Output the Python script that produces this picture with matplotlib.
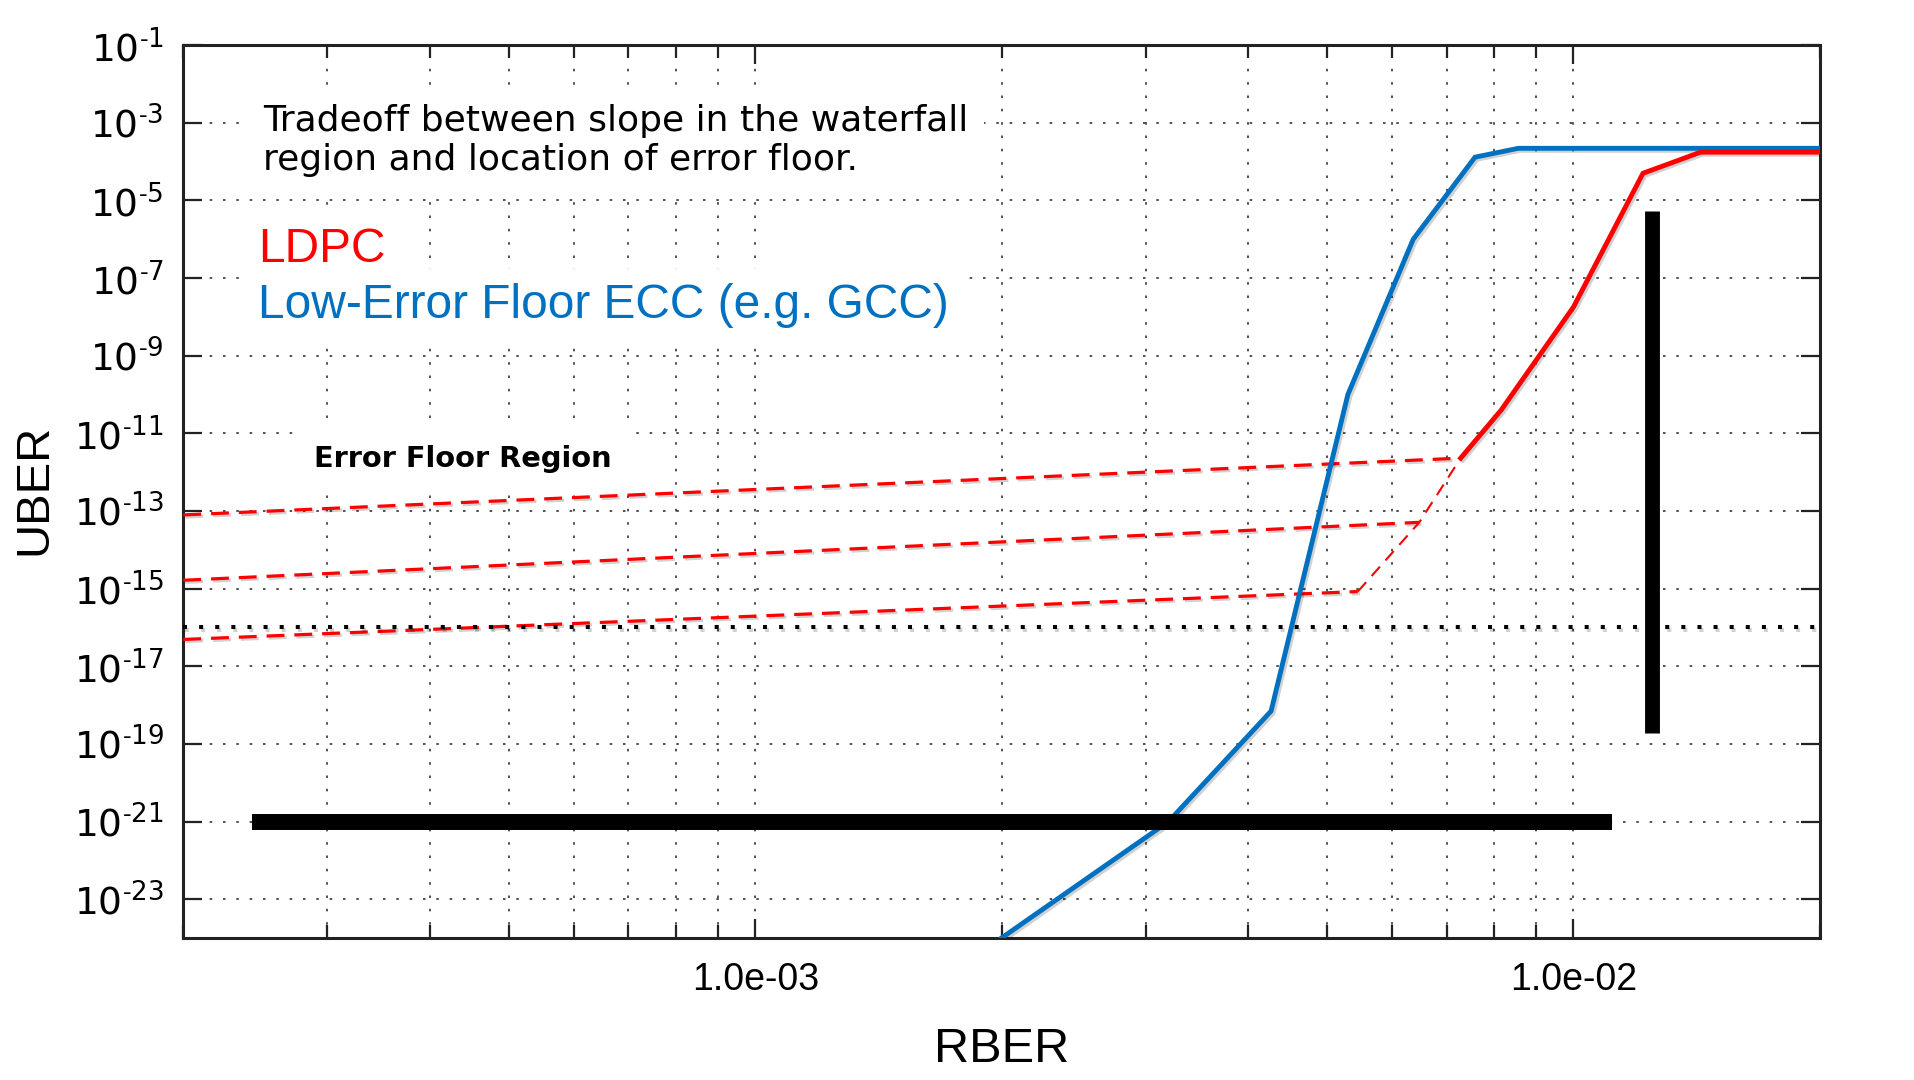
import numpy as np
import matplotlib
matplotlib.use('Agg')
import matplotlib.pyplot as plt
from matplotlib import font_manager as fm
import matplotlib.patheffects as pe
from matplotlib.ticker import FixedLocator, FixedFormatter, NullFormatter, NullLocator, LogLocator

names = {f.name for f in fm.fontManager.ttflist}
SANS = 'Liberation Sans'
HAS_NARROW = 'Liberation Sans Narrow' in names
NARROW = 'Liberation Sans Narrow' if HAS_NARROW else 'Liberation Sans'

plt.rcParams['mathtext.fontset'] = 'custom'
plt.rcParams['mathtext.rm'] = SANS
plt.rcParams['mathtext.it'] = SANS + ':italic'
plt.rcParams['mathtext.bf'] = SANS + ':bold'

# ---------------- data ----------------
gcc_rber = [2.0e-3, 3.2e-3, 4.27e-3, 5.3e-3, 6.37e-3, 7.58e-3, 8.56e-3, 2.0e-2]
gcc_uber = [1e-24, 1e-21, 7e-19, 1e-10, 1e-6, 1.3e-4, 2.2e-4, 2.2e-4]

ldpc_rber = [7.28e-3, 8.16e-3, 1.0e-2, 1.216e-2, 1.43e-2, 2.0e-2]
ldpc_uber = [2.3e-12, 4e-11, 1.8e-8, 5e-5, 1.75e-4, 1.75e-4]

floor1_rber = [2e-4, 7.28e-3]
floor1_uber = [7.9e-14, 2.3e-12]
floor2_rber = [2e-4, 6.48e-3]
floor2_uber = [1.64e-15, 5.1e-14]
floor3_rber = [2e-4, 5.45e-3]
floor3_uber = [4.9e-17, 8.4e-16]
trans_rber = [5.45e-3, 6.48e-3, 7.28e-3]
trans_uber = [8.4e-16, 5.1e-14, 2.3e-12]

target_rber = [2e-4, 2e-2]
target_uber = [1e-16, 1e-16]

hbar_rber = [2.43e-4, 1.113e-2]
hbar_uber = [1e-21, 1e-21]
vbar_rber = [1.246e-2, 1.246e-2]
vbar_uber = [1.86e-19, 5.2e-6]

y_tick_exps = list(range(-1, -24, -2))
x_major = [1e-3, 1e-2]
x_major_labels = ['1.0e-03', '1.0e-02']

BLUE = '#0070C0'
RED = '#FF0000'

fig = plt.figure(figsize=(19.15, 10.8), dpi=100)
ax = fig.add_axes([0.0957, 0.1315, 0.8546, 0.8267])
ax.set_xscale('log')
ax.set_yscale('log')
ax.set_xlim(2e-4, 2e-2)
ax.set_ylim(1e-24, 1e-1)

# ticks
ax.xaxis.set_major_locator(FixedLocator(x_major))
ax.xaxis.set_major_formatter(FixedFormatter(x_major_labels))
ax.xaxis.set_minor_locator(LogLocator(base=10, subs=np.arange(2, 10)))
ax.xaxis.set_minor_formatter(NullFormatter())
yt = [10.0 ** e for e in y_tick_exps]
ax.yaxis.set_major_locator(FixedLocator(yt))
ax.yaxis.set_minor_locator(NullLocator())


def ylabels(use_text):
    if use_text:
        return [r'$\mathregular{10^{\text{-}%d}}$' % (-e) for e in y_tick_exps]
    return [r'$\mathregular{10^{%d}}$' % e for e in y_tick_exps]


ax.yaxis.set_major_formatter(FixedFormatter(ylabels(True)))

ax.tick_params(which='both', direction='in', top=True, right=True, width=1.6, color='#222222')
ax.tick_params(which='major', length=14)
ax.tick_params(which='minor', length=9.5)
ax.tick_params(axis='x', which='major', labelsize=27, pad=17)
ax.tick_params(axis='y', which='major', labelsize=27, pad=14)
for lab in ax.get_xticklabels():
    lab.set_fontfamily(SANS)

for s in ax.spines.values():
    s.set_linewidth(2.2)
    s.set_color('#222222')

ax.set_axisbelow(True)
ax.grid(True, which='both', axis='x', color='#333333', lw=1.2, dashes=(1.5, 6.5))
ax.grid(True, which='major', axis='y', color='#333333', lw=1.2, dashes=(1.5, 6.5))

shadow = [pe.SimpleLineShadow(offset=(1.5, -1.5), shadow_color='k', alpha=0.18), pe.Normal()]

# error floor dashed lines
for xr, yr in [(floor1_rber, floor1_uber), (floor2_rber, floor2_uber), (floor3_rber, floor3_uber)]:
    l, = ax.plot(xr, yr, color=RED, lw=2.3, zorder=4, path_effects=shadow)
    l.set_dashes((5.6, 3.1))
l, = ax.plot(trans_rber, trans_uber, color=RED, lw=1.5, zorder=4)
l.set_dashes((6, 4))

# target dotted line
l, = ax.plot(target_rber, target_uber, color='k', lw=2.9, zorder=4, path_effects=shadow,
             solid_capstyle='butt', dash_capstyle='butt')
l.set_dashes((1, 3))

# curves
ax.plot(gcc_rber, gcc_uber, color=BLUE, lw=3.5, zorder=5, path_effects=shadow, solid_joinstyle='miter')
ax.plot(ldpc_rber, ldpc_uber, color=RED, lw=3.5, zorder=6, path_effects=shadow, solid_joinstyle='miter')

# thick bars
ax.plot(hbar_rber, hbar_uber, color='k', lw=11.5, solid_capstyle='butt', zorder=7)
ax.plot(vbar_rber, vbar_uber, color='k', lw=10.7, solid_capstyle='butt', zorder=7)

# annotations
box = dict(facecolor='white', edgecolor='none', boxstyle='square,pad=0.45')
ax.text(0.0485, 0.8605, 'Tradeoff between slope in the waterfall\nregion and location of error floor.',
        transform=ax.transAxes, fontsize=26, family='DejaVu Sans', ha='left', va='baseline',
        linespacing=1.17, bbox=box, zorder=3)
box2 = dict(facecolor='white', edgecolor='none', boxstyle='square,pad=0.3')
ax.text(0.0455, 0.7575, 'LDPC', transform=ax.transAxes, fontsize=34.5, family=SANS, color=RED,
        ha='left', va='baseline', bbox=box2, zorder=3)
ax.text(0.0455, 0.6944, 'Low-Error Floor ECC (e.g. GCC)', transform=ax.transAxes, fontsize=34.5,
        family=SANS, color=BLUE, ha='left', va='baseline', bbox=box2, zorder=3)
box3 = dict(facecolor='white', edgecolor='none', boxstyle='square,pad=0.6')
ax.text(0.0799, 0.5279, 'Error Floor Region', transform=ax.transAxes, fontsize=20.8,
        family='DejaVu Sans', weight='bold', ha='left', va='baseline', bbox=box3, zorder=3)

# axis titles
fig.text(0.0178, 0.5466, 'UBER', rotation=90, fontsize=41 if HAS_NARROW else 34,
         family=NARROW, ha='center', va='center')
fig.text(0.5229, 0.0278, 'RBER', fontsize=42 if HAS_NARROW else 35, family=NARROW,
         ha='center', va='center')

try:
    fig.canvas.draw()
except Exception:
    ax.yaxis.set_major_formatter(FixedFormatter(ylabels(False)))

fig.savefig('out.png', dpi=100)
